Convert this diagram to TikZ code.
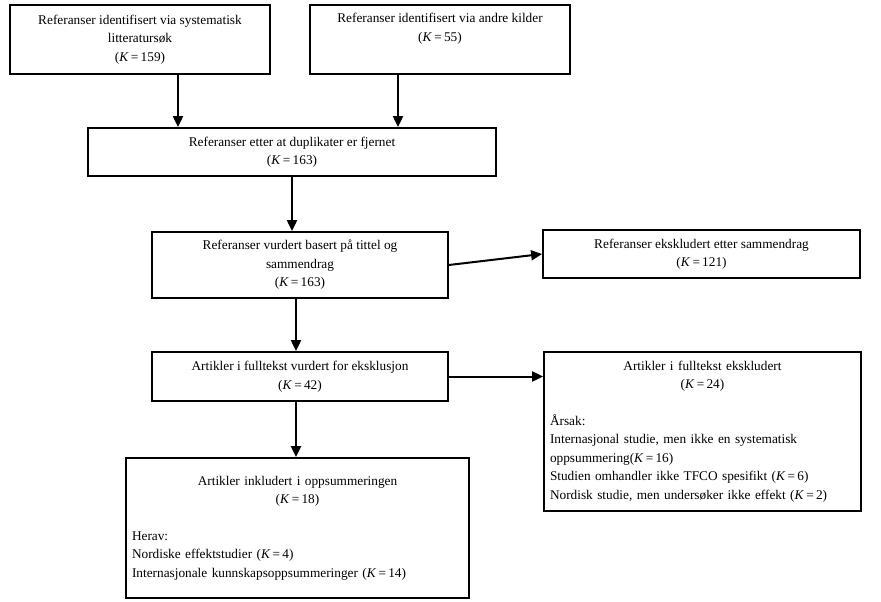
\documentclass[tikz,border=0pt]{standalone}
\usepackage{fontspec}
\setmainfont{Liberation Serif}
\usetikzlibrary{arrows.meta}
\newcommand{\kval}[1]{(\textit{K}\,=\,#1)}
\begin{document}
\begin{tikzpicture}[x=1pt,y=-1pt,
    box/.style={draw,line width=1.8pt,inner sep=0pt,align=center,
      font=\fontsize{13.3}{18.5}\selectfont},
    flow/.style={line width=2pt,-{Triangle[length=11pt,width=10pt]}}]
  \useasboundingbox (0,0) rectangle (881,602);

  % boxes
  \node[box,minimum width=260pt,minimum height=69pt] (srch) at (140,39.5)
    {Referanser identifisert via systematisk\\litteratursøk\\\kval{159}};
  \node[box,minimum width=260pt,minimum height=69pt] (other) at (440,39.5)
    {Referanser identifisert via andre kilder\\\kval{55}\\\strut};
  \node[box,minimum width=408pt,minimum height=48pt] (dupl) at (292,152)
    {Referanser etter at duplikater er fjernet\\\kval{163}};
  \node[box,minimum width=296pt,minimum height=66pt] (scrn) at (300,265)
    {Referanser vurdert basert på tittel og\\sammendrag\\\kval{163}};
  \node[box,minimum width=317pt,minimum height=48pt] (excl) at (701.5,254)
    {Referanser ekskludert etter sammendrag\\\kval{121}};
  \node[box,minimum width=296pt,minimum height=49pt] (full) at (300,376.5)
    {Artikler i fulltekst vurdert for eksklusjon\\\kval{42}};
  \node[box,minimum width=317pt,minimum height=159pt,text width=305pt,align=left]
    (fexc) at (702.5,431.5)
    {{\centering Artikler i fulltekst ekskludert\\\kval{24}\\[18pt]\par}
     \raggedright Årsak:\\Internasjonal studie, men ikke en systematisk\\oppsummering\kval{16}\\
     Studien omhandler ikke TFCO spesifikt \kval{6}\\
     Nordisk studie, men undersøker ikke effekt \kval{2}};
  \node[box,minimum width=343pt,minimum height=140pt,text width=331pt,align=left]
    (incl) at (297.5,528)
    {{\centering Artikler inkludert i oppsummeringen\\\kval{18}\\[18pt]\par}
     \raggedright Herav:\\Nordiske effektstudier \kval{4}\\
     Internasjonale kunnskapsoppsummeringer \kval{14}\\[10pt]};

  % connectors
  \draw[flow] (srch.south -| 178,0) -- (dupl.north -| 178,0);
  \draw[flow] (other.south -| 398,0) -- (dupl.north -| 398,0);
  \draw[flow] (dupl.south) -- (dupl.south |- scrn.north);
  \draw[flow] (scrn.east) -- (excl.west);
  \draw[flow] (scrn.south -| 296,0) -- (full.north -| 296,0);
  \draw[flow] (full.east) -- (fexc.west |- full.east);
  \draw[flow] (full.south -| 296,0) -- (incl.north -| 296,0);
\end{tikzpicture}
\end{document}
